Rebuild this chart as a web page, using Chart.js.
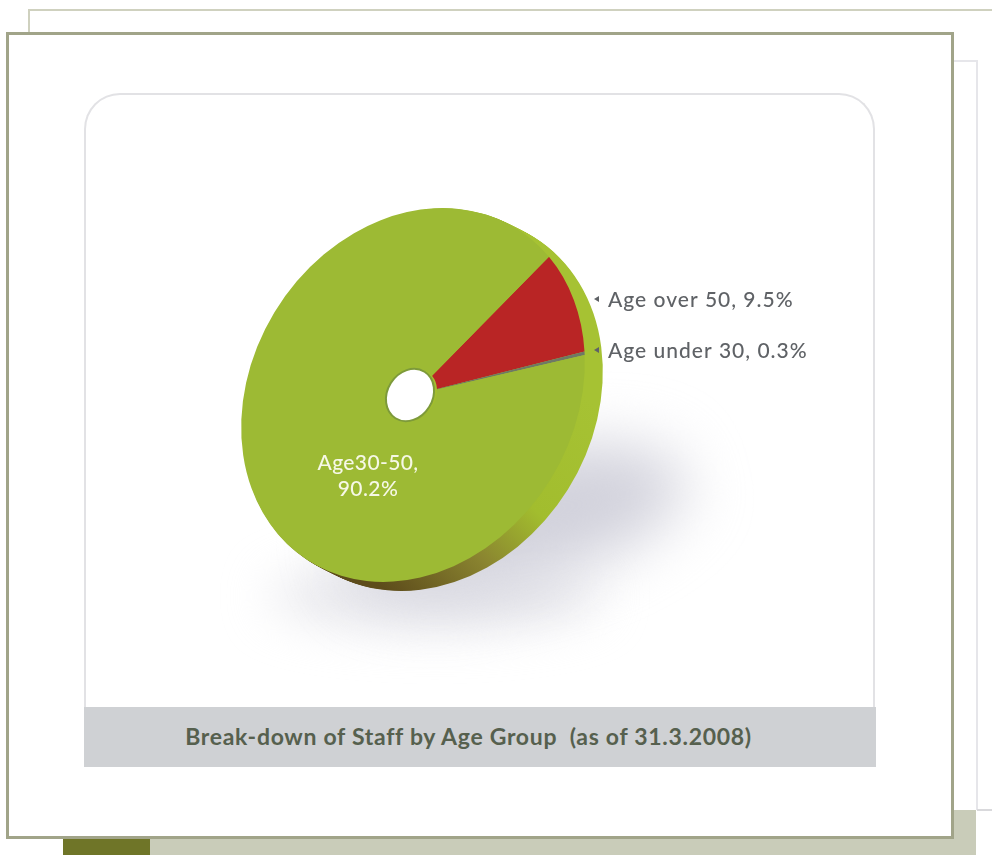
<!DOCTYPE html>
<html>
<head>
<meta charset="utf-8">
<title>Break-down of Staff by Age Group</title>
<script src="https://cdn.jsdelivr.net/npm/chart.js@4/dist/chart.umd.min.js"></script>
<style>
    html, body { margin: 0; padding: 0; background: #fff; }
    body { position: relative; width: 992px; height: 855px; overflow: hidden; font-family: Lato, sans-serif; }
    .box { position: absolute; box-sizing: border-box; }
    #back-top { left: 28px; top: 9px; width: 964px; height: 40px; border-top: 2px solid #cfd1bf; border-left: 2px solid #cfd1bf; }
    #back-page { left: 953px; top: 60px; width: 25px; height: 750px; border-top: 2px solid #e6e6ea; border-right: 2px solid #e6e6ea; }
    #back-line { left: 977px; top: 809px; width: 15px; height: 2px; background: #d9d9dc; }
    #band { left: 150px; top: 838px; width: 826px; height: 17px; background: #c9ccb9; }
    #band-side { left: 953px; top: 810px; width: 23px; height: 28px; background: #c9ccb9; }
    #band-dark { left: 63px; top: 838px; width: 87px; height: 17px; background: #6f7528; }
    #frame { left: 6px; top: 32px; width: 948px; height: 807px; background: #fff; border: 3px solid #a1a489; }
    #panel { left: 84px; top: 93px; width: 791px; height: 640px; border: 2px solid #e2e2e5; border-bottom: 0; border-radius: 36px 36px 0 0; }
    #caption { left: 84px; top: 707px; width: 792px; height: 60px; line-height: 59px; padding-right: 23px; background: #cfd1d4; color: #56604e; text-align: center; font-size: 23px; font-weight: 700; letter-spacing: 0.7px; white-space: pre; }
    #shadow { left: 340px; top: 455px; width: 350px; height: 130px; border-radius: 50%; background: #d2d2dc; filter: blur(30px); transform: rotate(-14deg); }
    #shadow-low { left: 270px; top: 565px; width: 330px; height: 62px; border-radius: 50%; background: #e6e6eb; filter: blur(24px); }
    #chart-wrap { position: absolute; left: 0; top: 0; width: 992px; height: 855px; }
</style>
</head>
<body>
<div class="box" id="back-top"></div>
<div class="box" id="back-page"></div>
<div class="box" id="back-line"></div>
<div class="box" id="band"></div>
<div class="box" id="band-side"></div>
<div class="box" id="band-dark"></div>
<div class="box" id="frame"></div>
<div class="box" id="panel"></div>
<div class="box" id="shadow-low"></div>
<div class="box" id="shadow"></div>
<div class="box" id="caption">Break-down of Staff by Age Group  (as of 31.3.2008)</div>
<div id="chart-wrap"><canvas id="ageChart" width="992" height="855"></canvas></div>

<script>
// Staff share by age group, in percent
var categories = ['Age over 50', 'Age under 30', 'Age30-50'];
var shares = [9.5, 0.3, 90.2];
var sliceColors = ['#b92525', '#6e7866', '#9dba34'];

// The flat doughnut gets squashed and turned into a tilted disc
var DISC = { tilt: 32, scaleX: 0.807, scaleY: 0.98, depthX: 18, depthY: 9 };

function applyDiscTransform(ctx, arc, dx, dy) {
    ctx.translate(arc.x + dx, arc.y + dy);
    ctx.rotate(DISC.tilt * Math.PI / 180);
    ctx.scale(DISC.scaleX, DISC.scaleY);
    ctx.translate(-arc.x, -arc.y);
}

var discPlugin = {
    id: 'disc',
    beforeDatasetsDraw(chart) {
        var ctx = chart.ctx;
        var arc = chart.getDatasetMeta(0).data[0];

        // side wall, stacked copies of the outer edge
        var wall = ctx.createLinearGradient(590, 400, 395, 600);
        wall.addColorStop(0, '#a6c233');
        wall.addColorStop(0.42, '#a2bd2e');
        wall.addColorStop(0.68, '#8a8430');
        wall.addColorStop(1, '#5d4c1b');
        var steps = 18;
        for (var i = steps; i > 0; i--) {
            ctx.save();
            applyDiscTransform(ctx, arc, DISC.depthX * i / steps, DISC.depthY * i / steps);
            ctx.beginPath();
            ctx.arc(arc.x, arc.y, arc.outerRadius, 0, Math.PI * 2);
            ctx.restore();
            ctx.fillStyle = wall;
            ctx.fill();
        }

        ctx.save();
        applyDiscTransform(ctx, arc, 0, 0);
    },
    afterDatasetsDraw(chart) {
        var ctx = chart.ctx;
        var arc = chart.getDatasetMeta(0).data[0];
        ctx.restore();

        // white centre hole with its thin rim
        ctx.save();
        applyDiscTransform(ctx, arc, -3, 0);
        ctx.beginPath();
        ctx.arc(arc.x, arc.y, arc.innerRadius, 0, Math.PI * 2);
        ctx.restore();
        ctx.fillStyle = '#fff';
        ctx.fill();
        ctx.strokeStyle = '#7d9a3a';
        ctx.lineWidth = 2;
        ctx.stroke();
    }
};

var labelPlugin = {
    id: 'sliceLabels',
    afterDraw(chart) {
        var ctx = chart.ctx;
        ctx.save();
        ctx.textBaseline = 'middle';

        // outside labels with small pointers
        var outside = [[0, 608, 300], [1, 608, 351]];
        outside.forEach(function (o) {
            var i = o[0];
            ctx.fillStyle = '#5f6266';
            ctx.font = '500 21px Lato, sans-serif';
            ctx.textAlign = 'left';
            ctx.letterSpacing = '1px';
            ctx.fillText(categories[i] + ', ' + shares[i] + '%', o[1], o[2]);
            ctx.beginPath();
            ctx.moveTo(o[1] - 14, o[2] - 1);
            ctx.lineTo(o[1] - 9, o[2] - 4);
            ctx.lineTo(o[1] - 9, o[2] + 2);
            ctx.closePath();
            ctx.fill();
        });

        // inside label on the big slice
        ctx.fillStyle = '#f6f8e6';
        ctx.font = '500 21px Lato, sans-serif';
        ctx.textAlign = 'center';
        ctx.letterSpacing = '0.4px';
        ctx.fillText(categories[2] + ',', 368, 463);
        ctx.fillText(shares[2] + '%', 368, 489);
        ctx.restore();
    }
};

new Chart(document.getElementById('ageChart').getContext('2d'), {
    type: 'doughnut',
    data: {
        labels: categories,
        datasets: [{
            data: shares,
            backgroundColor: sliceColors,
            borderWidth: 0,
            radius: 200,
            cutout: '14%',
            rotation: 15.1,
            clip: false
        }]
    },
    options: {
        responsive: false,
        animation: false,
        layout: { padding: { left: 0, right: 166, top: 0, bottom: 65 } },
        plugins: { legend: { display: false }, tooltip: { enabled: false } }
    },
    plugins: [discPlugin, labelPlugin]
});
</script>
</body>
</html>
